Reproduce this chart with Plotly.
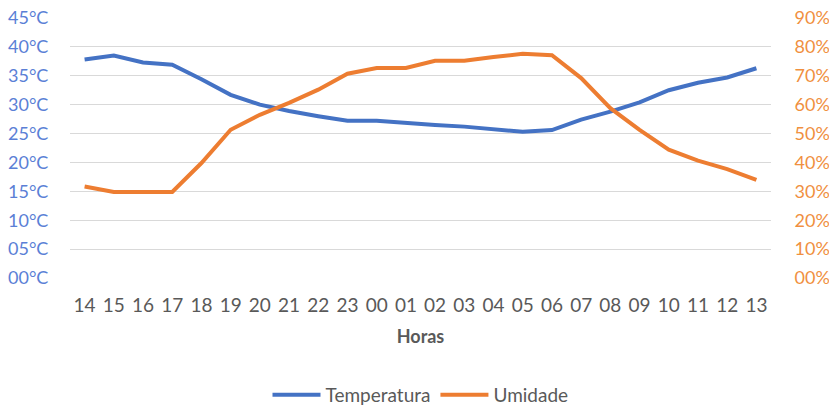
import plotly.graph_objects as go

horas = ["14","15","16","17","18","19","20","21","22","23","00","01",
         "02","03","04","05","06","07","08","09","10","11","12","13"]
temperatura = [37.8, 38.5, 37.3, 36.9, 34.4, 31.7, 30.0, 28.9, 28.0, 27.2, 27.2, 26.8,
               26.5, 26.2, 25.7, 25.3, 25.6, 27.4, 28.8, 30.4, 32.5, 33.8, 34.7, 36.3]
umidade = [31.7, 29.8, 29.8, 29.8, 39.8, 51.3, 56.5, 60.6, 65.2, 70.7, 72.7, 72.7,
           75.2, 75.2, 76.5, 77.6, 77.1, 69.2, 58.8, 51.3, 44.4, 40.6, 37.7, 34.0]
temp_ticks = [0, 5, 10, 15, 20, 25, 30, 35, 40, 45]
temp_labels = ["00°C", "05°C", "10°C", "15°C", "20°C", "25°C", "30°C", "35°C", "40°C", "45°C"]
hum_ticks = [0, 10, 20, 30, 40, 50, 60, 70, 80, 90]
hum_labels = ["00%", "10%", "20%", "30%", "40%", "50%", "60%", "70%", "80%", "90%"]

BLUE = "#4472C4"
ORANGE = "#ED7D31"
GRAY = "#595959"
FONT = "Lato"

fig = go.Figure()
fig.add_trace(go.Scatter(x=horas, y=temperatura, name="Temperatura", mode="lines",
                         line=dict(color=BLUE, width=4), yaxis="y"))
fig.add_trace(go.Scatter(x=horas, y=umidade, name="Umidade", mode="lines",
                         line=dict(color=ORANGE, width=4), yaxis="y2"))

fig.update_layout(
    width=829, height=410,
    margin=dict(l=70, r=58, t=18, b=132, autoexpand=False),
    paper_bgcolor="white", plot_bgcolor="white",
    font=dict(family=FONT, size=18, color=GRAY),
    xaxis=dict(type="category", range=[-0.5, 23.5], showgrid=False, zeroline=False, showline=False,
               tickfont=dict(family=FONT, size=19, color=GRAY),
               ticks="outside", ticklen=10, tickcolor="rgba(0,0,0,0)",
               title=dict(text="<b>Horas</b>", font=dict(family=FONT, size=18, color=GRAY), standoff=15)),
    yaxis=dict(range=[0, 45], tickvals=temp_ticks, ticktext=temp_labels,
               showgrid=True, gridcolor="#D9D9D9", gridwidth=1, zeroline=False,
               tickfont=dict(family=FONT, size=18, color="#5B7FD6"),
               ticks="outside", ticklen=17, tickcolor="rgba(0,0,0,0)"),
    yaxis2=dict(range=[0, 90], tickvals=hum_ticks, ticktext=hum_labels,
                overlaying="y", side="right", showgrid=False, zeroline=False,
                tickfont=dict(family=FONT, size=18, color="#F0903F"),
                ticks="outside", ticklen=19, tickcolor="rgba(0,0,0,0)"),
    legend=dict(orientation="h", x=0.5, xanchor="center", y=-0.45, yanchor="middle",
                font=dict(family=FONT, size=19, color=GRAY), itemwidth=48,
                bgcolor="rgba(0,0,0,0)"),
    showlegend=True,
)

fig.write_html("out.html")
